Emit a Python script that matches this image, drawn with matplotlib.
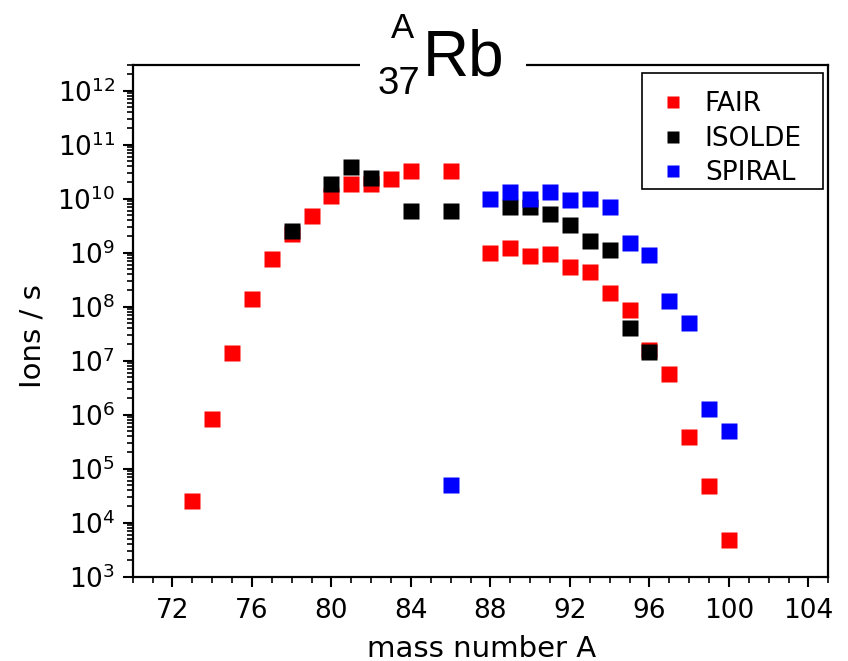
import matplotlib
matplotlib.use("Agg")
import matplotlib.pyplot as plt
from matplotlib.patches import Rectangle
from matplotlib.ticker import LogLocator, FixedLocator, MultipleLocator, NullFormatter

# ---------------- data ----------------
fair_A = [73, 74, 75, 76, 77, 78, 79, 80, 81, 82, 83, 84, 86,
          88, 89, 90, 91, 92, 93, 94, 95, 96, 97, 98, 99, 100]
fair_y = [2.5e4, 8.3e5, 1.4e7, 1.4e8, 7.6e8, 2.2e9, 4.8e9, 1.1e10, 1.9e10, 1.9e10, 2.3e10, 3.3e10, 3.2e10,
          1.0e9, 1.2e9, 8.7e8, 9.3e8, 5.5e8, 4.3e8, 1.8e8, 8.7e7, 1.6e7, 5.6e6, 3.9e5, 4.8e4, 4.8e3]

isolde_A = [78, 80, 81, 82, 84, 86, 89, 90, 91, 92, 93, 94, 95, 96]
isolde_y = [2.5e9, 1.9e10, 3.8e10, 2.4e10, 6.0e9, 5.8e9, 7.1e9, 7.0e9, 5.2e9, 3.2e9, 1.65e9, 1.1e9, 4.0e7, 1.45e7]

spiral_A = [86, 88, 89, 90, 91, 92, 93, 94, 95, 96, 97, 98, 99, 100]
spiral_y = [5.0e4, 1.0e10, 1.35e10, 1.0e10, 1.35e10, 9.3e9, 1.0e10, 7.1e9, 1.5e9, 9.1e8, 1.3e8, 5.0e7, 1.3e6, 5.0e5]

x_ticks = [72, 76, 80, 84, 88, 92, 96, 100, 104]
y_exponents = [3, 4, 5, 6, 7, 8, 9, 10, 11, 12]

# ---------------- figure ----------------
W, H = 848, 661
plt.rcParams['font.family'] = ['DejaVu Sans']
plt.rcParams['mathtext.fontset'] = 'custom'
plt.rcParams['mathtext.rm'] = 'DejaVu Sans'

fig = plt.figure(figsize=(W / 100, H / 100), dpi=100)
left, right, bottom, top = 132.7, 828.3, 576.7, 64.5
ax = fig.add_axes([left / W, 1 - bottom / H, (right - left) / W, (bottom - top) / H])

ms = 11
ax.plot(fair_A, fair_y, 's', color='#ff0000', ms=ms, mec='none', label='FAIR', zorder=3)
ax.plot(isolde_A, isolde_y, 's', color='#000000', ms=ms, mec='none', label='ISOLDE', zorder=4)
ax.plot(spiral_A, spiral_y, 's', color='#0000ff', ms=ms, mec='none', label='SPIRAL', zorder=5)

ax.set_yscale('log')
ax.set_xlim(70, 105)
ax.set_ylim(1e3, 10 ** 12.485)

ax.xaxis.set_major_locator(FixedLocator(x_ticks))
ax.set_xticklabels([str(v) for v in x_ticks])
ax.xaxis.set_minor_locator(MultipleLocator(1))

ax.yaxis.set_major_locator(FixedLocator([10.0 ** e for e in y_exponents]))
ax.set_yticklabels([r'$\mathregular{10^{%d}}$' % e for e in y_exponents])
ax.yaxis.set_minor_locator(LogLocator(base=10, subs=[2, 3, 4, 5, 6, 7, 8, 9], numticks=20))
ax.yaxis.set_minor_formatter(NullFormatter())

for s in ax.spines.values():
    s.set_linewidth(1.6)
ax.tick_params(which='major', direction='out', length=7.5, width=1.5, labelsize=19, pad=5)
ax.tick_params(axis='x', which='major', pad=8)
ax.tick_params(which='minor', direction='out', length=4, width=1.2)
ax.tick_params(axis='both', which='both', top=False, right=False)

ax.set_xlabel('mass number A', fontsize=21)
ax.set_ylabel('Ions / s', fontsize=21)
ax.xaxis.set_label_coords(0.502, -0.113)
ax.yaxis.set_label_coords(-0.124, 0.47)

# legend entries without frame; the box is drawn separately
leg = ax.legend(loc='upper left', bbox_to_anchor=(642 / W, 1 - 80.5 / H),
                bbox_transform=fig.transFigure, fontsize=19, markerscale=9 / 11,
                frameon=False, borderpad=0.4, handlelength=1.54,
                handletextpad=0.44, labelspacing=0.33, borderaxespad=0, numpoints=1)
leg.set_zorder(7)
ax.add_patch(Rectangle((642 / W, 1 - 189 / H), (823 - 642) / W, (189 - 72.7) / H,
                       transform=fig.transFigure, facecolor='white', edgecolor='black',
                       linewidth=1.2, zorder=6))

# ---------------- title on the top spine ----------------
fig.patches.append(Rectangle((360 / W, 1 - 70 / H), (526 - 360) / W, 10 / H,
                             transform=fig.transFigure, facecolor='white',
                             edgecolor='none', zorder=5))
tfont = 'Liberation Sans'
fig.text(423 / W, 1 - 76 / H, 'Rb', fontsize=46, family=tfont, ha='left', va='baseline', zorder=6)
fig.text(378 / W, 1 - 94.3 / H, '37', fontsize=27.5, family=tfont, ha='left', va='baseline', zorder=6)
fig.text(391 / W, 1 - 38.3 / H, 'A', fontsize=25, family=tfont, ha='left', va='baseline', zorder=6)

fig.savefig('out.png', dpi=100)
